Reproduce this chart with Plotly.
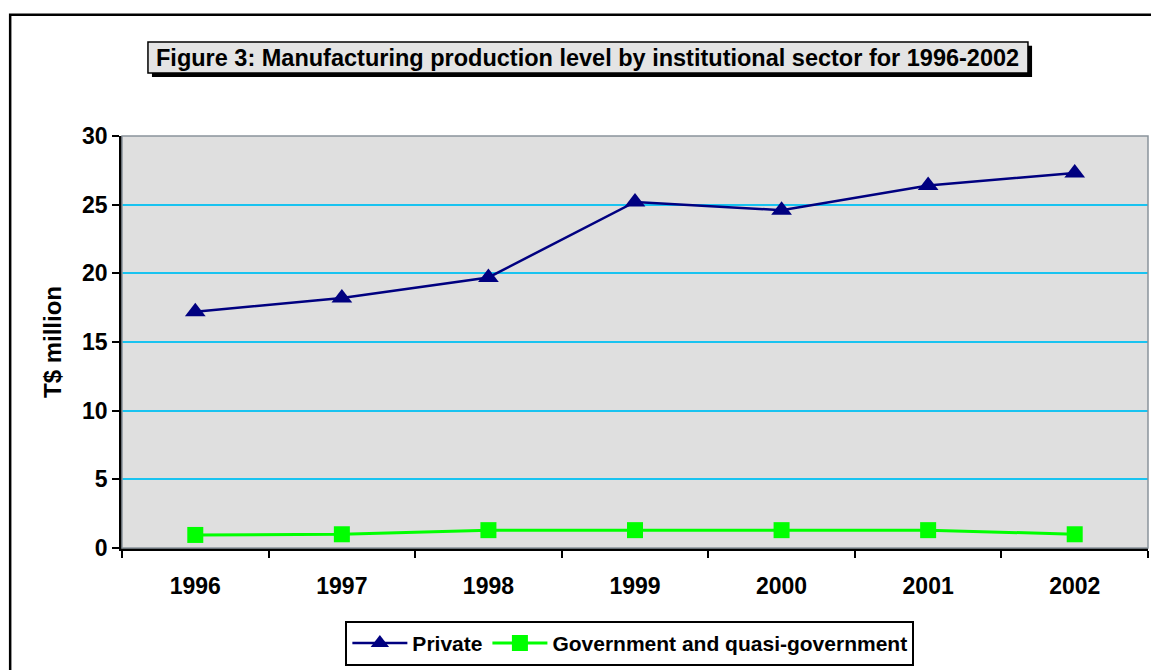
import plotly.graph_objects as go

# --- data ---------------------------------------------------------------------
years = ["1996", "1997", "1998", "1999", "2000", "2001", "2002"]
private = [17.2, 18.2, 19.7, 25.2, 24.6, 26.4, 27.3]
government = [0.95, 1.0, 1.3, 1.3, 1.3, 1.3, 1.0]

FONT = "Liberation Sans, Arial, sans-serif"

fig = go.Figure()

fig.add_trace(
    go.Scatter(
        x=years,
        y=private,
        mode="lines+markers",
        name="Private",
        line=dict(color="#000080", width=2.5),
        marker=dict(symbol="triangle-up", size=18, color="#000080"),
    )
)
fig.add_trace(
    go.Scatter(
        x=years,
        y=government,
        mode="lines+markers",
        name="Government and quasi-government",
        line=dict(color="#00ff00", width=3),
        marker=dict(symbol="square", size=16, color="#00ff00"),
    )
)

# --- frame, title box, plot border ------------------------------------------
shapes = [
    # outer chart frame
    dict(type="rect", xref="paper", yref="paper", x0=-0.109, x1=1.03, y0=-0.6, y1=1.294,
         line=dict(color="black", width=2.5), fillcolor="rgba(0,0,0,0)", layer="below"),
    # plot area border (top/right grey)
    dict(type="rect", xref="paper", yref="paper", x0=0, x1=1, y0=0, y1=1,
         line=dict(color="#8a949c", width=1.5), layer="above"),
    # title box shadow
    dict(type="rect", xref="paper", yref="paper", x0=0.0292, x1=0.887, y0=1.143, y1=1.219,
         line=dict(width=0), fillcolor="black", layer="above"),
    # title box
    dict(type="rect", xref="paper", yref="paper", x0=0.0253, x1=0.883, y0=1.153, y1=1.228,
         line=dict(color="black", width=1.5), fillcolor="#e4e4e4", layer="above"),
]

fig.add_annotation(
    text="<b>Figure 3: Manufacturing production level by institutional sector for 1996-2002</b>",
    xref="paper", yref="paper", x=0.454, y=1.1905,
    xanchor="center", yanchor="middle", showarrow=False,
    font=dict(family=FONT, size=23.5, color="black"),
)

# page body has an 8px margin, so the figure is sized to fit the window
fig.update_layout(
    width=1151,
    height=662,
    margin=dict(l=114, r=11, t=128, b=122, autoexpand=False),
    paper_bgcolor="white",
    plot_bgcolor="#dfdfdf",
    shapes=shapes,
    font=dict(family=FONT, color="black"),
    showlegend=True,
    legend=dict(
        orientation="h",
        x=0.495, xanchor="center",
        y=-0.177, yanchor="top",
        bordercolor="black", borderwidth=2, bgcolor="white",
        font=dict(family=FONT, size=21, color="black", weight="bold"),
        itemwidth=55,
    ),
)

fig.update_xaxes(
    type="category",
    range=[-0.5, 6.5],
    showgrid=False,
    showline=True, linecolor="black", linewidth=2.5,
    ticks="outside", ticklen=7, tickwidth=2, tickcolor="black",
    tickson="boundaries",
    ticklabelstandoff=16,
    tickfont=dict(family=FONT, size=23, color="black", weight="bold"),
    fixedrange=True,
)
fig.update_yaxes(
    range=[0, 30],
    dtick=5,
    showgrid=True, gridcolor="#19c3f0", gridwidth=2,
    showline=True, linecolor="black", linewidth=2.5,
    ticks="outside", ticklen=7, tickwidth=2, tickcolor="black",
    zeroline=False,
    tickfont=dict(family=FONT, size=23, color="black", weight="bold"),
    title=dict(text="<b>T$ million</b>", font=dict(family=FONT, size=24, color="black"), standoff=14),
    fixedrange=True,
)

fig.write_html("out.html")
